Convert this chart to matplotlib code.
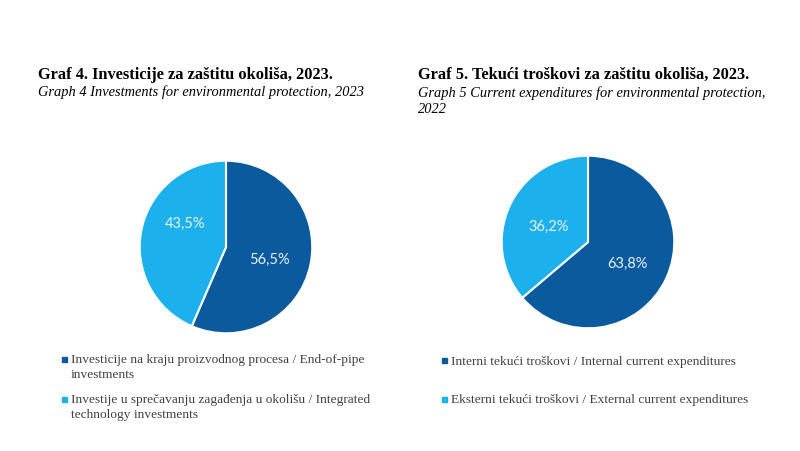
import matplotlib
matplotlib.use('Agg')
import matplotlib.pyplot as plt
from matplotlib.patches import Rectangle

# Data
labels_inv = ['Investicije na kraju proizvodnog procesa / End-of-pipe\ninvestments',
              'Investije u sprečavanju zagađenja u okolišu / Integrated\ntechnology investments']
values_inv = [56.5, 43.5]

labels_exp = ['Interni tekući troškovi / Internal current expenditures',
              'Eksterni tekući troškovi / External current expenditures']
values_exp = [63.8, 36.2]

colors = ['#0b5a9e', '#1cb0ec']
W, H = 800, 451

plt.rcParams['font.family'] = ['Liberation Serif', 'DejaVu Serif']
fig = plt.figure(figsize=(8, 4.51), dpi=100)
fig.patch.set_facecolor('white')


def pie_axes(cx, cy, r):
    return fig.add_axes([(cx - r) / W, 1 - (cy + r) / H, 2 * r / W, 2 * r / H])


def fmt(p):
    return f'{p:.1f}'.replace('.', ',') + '%'


def draw_pie(ax, values, pctdist):
    wedges, texts, autotexts = ax.pie(
        values, colors=colors, startangle=90, counterclock=False,
        autopct=fmt, pctdistance=pctdist,
        wedgeprops=dict(edgecolor='white', linewidth=1.5),
        textprops=dict(color='#eaf2fa', fontsize=10.5, family='Lato'))
    ax.set_xlim(-1.02, 1.02)
    ax.set_ylim(-1.02, 1.02)
    ax.set_aspect('equal')
    for t in autotexts:
        x, y = t.get_position()
        t.set_position((x, y - 0.04))
    return autotexts


def draw_legend(x0, y0, step, labels):
    # square marker aligned with the first text line, like the original
    for i, (lab, col) in enumerate(zip(labels, colors)):
        y = y0 + i * step
        fig.patches.append(Rectangle(((x0 - 5) / W, 1 - (y + 2.5) / H), 5 / W, 5 / H,
                                     transform=fig.transFigure, color=col))
        fig.text((x0 + 4) / W, 1 - (y - 4.5) / H, lab, fontsize=9.6, color='#404040',
                 va='top', linespacing=1.3)


ax1 = pie_axes(226, 247, 88)
at1 = draw_pie(ax1, values_inv, 0.52)
# light label sits higher in the original (Excel placement)
x, y = at1[1].get_position()
at1[1].set_position((x + 0.04, y + 0.2))
ax2 = pie_axes(588, 242, 88)
draw_pie(ax2, values_exp, 0.5)

# Titles
fig.text(38 / W, 1 - 75 / H, 'Graf 4. Investicije za zaštitu okoliša, 2023.',
         fontsize=11.8, fontweight='bold', va='center')
fig.text(38 / W, 1 - 92 / H, 'Graph 4 Investments for environmental protection, 2023',
         fontsize=10.4, style='italic', va='center')
fig.text(418 / W, 1 - 75 / H, 'Graf 5. Tekući troškovi za zaštitu okoliša, 2023.',
         fontsize=11.8, fontweight='bold', va='center')
fig.text(418 / W, 1 - 101 / H, 'Graph 5 Current expenditures for environmental protection,\n2022',
         fontsize=10.4, style='italic', va='center', linespacing=1.3)

# Legends
draw_legend(67, 359, 40, labels_inv)
draw_legend(447, 360, 39, labels_exp)

fig.savefig('out.png', dpi=100, facecolor='white')
